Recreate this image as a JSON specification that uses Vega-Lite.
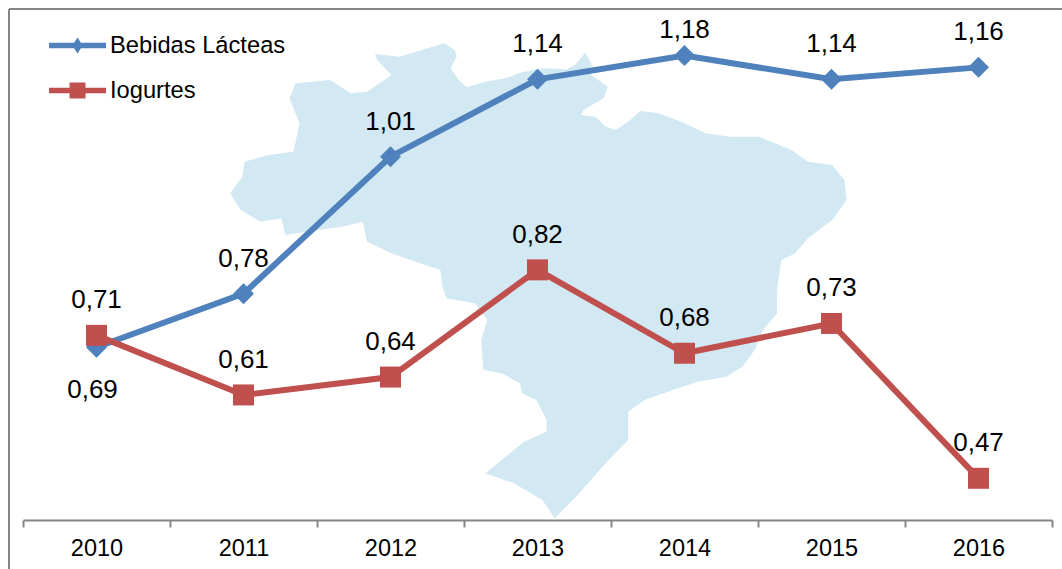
{"$schema":"https://vega.github.io/schema/vega-lite/v6.json","width":1029,"height":511,"autosize":{"type":"none"},"padding":{"left":23,"top":9,"right":10,"bottom":49},"background":"white","config":{"view":{"stroke":null},"font":"Liberation Sans"},"datasets":{"series":[{"ano":"2010","serie":"Bebidas Lácteas","valor":0.69,"rotulo":"0,69"},{"ano":"2011","serie":"Bebidas Lácteas","valor":0.78,"rotulo":"0,78"},{"ano":"2012","serie":"Bebidas Lácteas","valor":1.01,"rotulo":"1,01"},{"ano":"2013","serie":"Bebidas Lácteas","valor":1.14,"rotulo":"1,14"},{"ano":"2014","serie":"Bebidas Lácteas","valor":1.18,"rotulo":"1,18"},{"ano":"2015","serie":"Bebidas Lácteas","valor":1.14,"rotulo":"1,14"},{"ano":"2016","serie":"Bebidas Lácteas","valor":1.16,"rotulo":"1,16"},{"ano":"2010","serie":"Iogurtes","valor":0.71,"rotulo":"0,71"},{"ano":"2011","serie":"Iogurtes","valor":0.61,"rotulo":"0,61"},{"ano":"2012","serie":"Iogurtes","valor":0.64,"rotulo":"0,64"},{"ano":"2013","serie":"Iogurtes","valor":0.82,"rotulo":"0,82"},{"ano":"2014","serie":"Iogurtes","valor":0.68,"rotulo":"0,68"},{"ano":"2015","serie":"Iogurtes","valor":0.73,"rotulo":"0,73"},{"ano":"2016","serie":"Iogurtes","valor":0.47,"rotulo":"0,47"}]},"data":{"name":"series"},"encoding":{"x":{"field":"ano","type":"ordinal","scale":{"paddingInner":0,"paddingOuter":0},"axis":{"title":null,"labelAngle":0,"labelFontSize":23.5,"labelColor":"#000000","labelPadding":9,"tickBand":"extent","tickSize":7,"tickWidth":2,"tickColor":"#868686","domainColor":"#868686","domainWidth":2,"grid":false}}},"layer":[{"data":{"values":[{"type":"Feature","properties":{"nome":"Brasil"},"geometry":{"type":"Polygon","coordinates":[[[375.1,54],[399.6,56.7],[415.9,51.7],[444.5,43.3],[454.7,50],[456.7,56.7],[450.6,68.3],[458.8,80],[466.9,87.3],[485.3,81.7],[505.7,78.3],[520,72.7],[542.4,68.3],[566.9,69.3],[575.1,65],[585.3,52.7],[591.4,63.3],[591.4,75],[607.8,86.7],[603.7,98.3],[583.3,110],[581.2,115],[595.5,116.7],[605.7,126.7],[615.9,130],[628.2,121.7],[640.4,111],[658.8,113.3],[681.2,121.7],[705.7,133.3],[730.2,136.7],[758.8,136.7],[791.4,150],[807.8,161.7],[832.2,165],[844.5,180],[846.5,200],[832.2,220],[807.8,238.3],[795.5,253.3],[781.2,260],[777.1,290],[777.1,313.3],[762.9,330],[754.7,350],[742.4,366.7],[726.1,376.7],[697.6,381.7],[673.1,390],[644.5,400],[628.2,411.7],[628.2,440],[611.8,456.7],[599.6,470],[579.2,493.3],[562.9,510],[554.7,518.3],[542.4,500],[513.9,483.3],[485.3,473.3],[505.7,456.7],[524.1,441.7],[546.5,431.7],[546.5,420],[536.3,400],[522,393.3],[520,383.3],[501.6,373.3],[483.3,370],[481.2,340],[487.3,320],[475.1,303.3],[446.5,298.3],[442.4,286.7],[440.4,270],[420,263.3],[391.4,253.3],[366.9,241.7],[362.9,221.7],[342.4,226.7],[318,230],[285.3,235],[281.2,218.3],[260.8,221.7],[240.4,210],[230.2,193.3],[242.4,176.7],[244.5,161.7],[269,155],[293.5,151.7],[299.6,123.3],[289.4,98.3],[295.5,83.3],[330.2,80],[350.6,93.3],[366.9,91.7],[391.4,75],[377.1,60],[375.1,54]]]}}]},"mark":{"type":"geoshape","fill":"#d2e8f2","stroke":null},"projection":{"type":"identity","scale":1,"translate":[-23,-9]},"encoding":{"x":null}},{"mark":{"type":"line","strokeWidth":6,"strokeCap":"butt"},"encoding":{"y":{"field":"valor","type":"quantitative","scale":{"domain":[0.4,1.258],"nice":false,"zero":false},"axis":null},"color":{"field":"serie","type":"nominal","scale":{"domain":["Bebidas Lácteas","Iogurtes"],"range":["#4f81bd","#c0504d"]},"legend":{"title":null,"orient":"none","legendX":31.5,"legendY":13.5,"labelFontSize":23.7,"labelColor":"#000000","labelLimit":300,"symbolSize":2116,"labelOffset":9.5,"rowPadding":10,"symbolStrokeWidth":0,"encode":{"symbols":{"update":{"shape":{"signal":"datum.value==='Iogurtes'?'M-1.239,-0.124H-0.347V-0.347H0.347V-0.124H1.239V0.124H0.347V0.347H-0.347V0.124H-1.239Z':'M-1.239,-0.124H-0.149L0,-0.347L0.149,-0.124H1.239V0.124H0.149L0,0.347L-0.149,0.124H-1.239Z'"},"fill":{"signal":"datum.value==='Iogurtes'?'#c0504d':'#4f81bd'"},"strokeWidth":{"value":0},"opacity":{"value":1}}}}}}}},{"transform":[{"filter":"datum.serie==='Bebidas Lácteas'"}],"mark":{"type":"point","shape":"diamond","filled":true,"opacity":1,"size":441},"encoding":{"y":{"field":"valor","type":"quantitative"},"color":{"field":"serie","type":"nominal"}}},{"transform":[{"filter":"datum.serie==='Iogurtes'"}],"mark":{"type":"point","shape":"square","filled":true,"opacity":1,"size":441},"encoding":{"y":{"field":"valor","type":"quantitative"},"color":{"field":"serie","type":"nominal"}}},{"transform":[{"filter":"datum.rotulo!=='0,69'&&datum.rotulo!=='1,18'"}],"mark":{"type":"text","fontSize":26,"dy":-35,"color":"#000000"},"encoding":{"y":{"field":"valor","type":"quantitative"},"text":{"field":"rotulo","type":"nominal"}}},{"transform":[{"filter":"datum.rotulo==='1,18'"}],"mark":{"type":"text","fontSize":26,"dy":-25,"color":"#000000"},"encoding":{"y":{"field":"valor","type":"quantitative"},"text":{"field":"rotulo","type":"nominal"}}},{"transform":[{"filter":"datum.rotulo==='0,69'"}],"mark":{"type":"text","fontSize":26,"dy":43,"dx":-4,"color":"#000000"},"encoding":{"y":{"field":"valor","type":"quantitative"},"text":{"field":"rotulo","type":"nominal"}}},{"mark":{"type":"rule","color":"#868686","strokeWidth":2},"encoding":{"x":{"value":-14},"y":{"value":0},"y2":{"value":560}}},{"mark":{"type":"rule","color":"#868686","strokeWidth":2},"encoding":{"x":{"value":-14},"x2":{"value":1039},"y":{"value":0}}}]}
